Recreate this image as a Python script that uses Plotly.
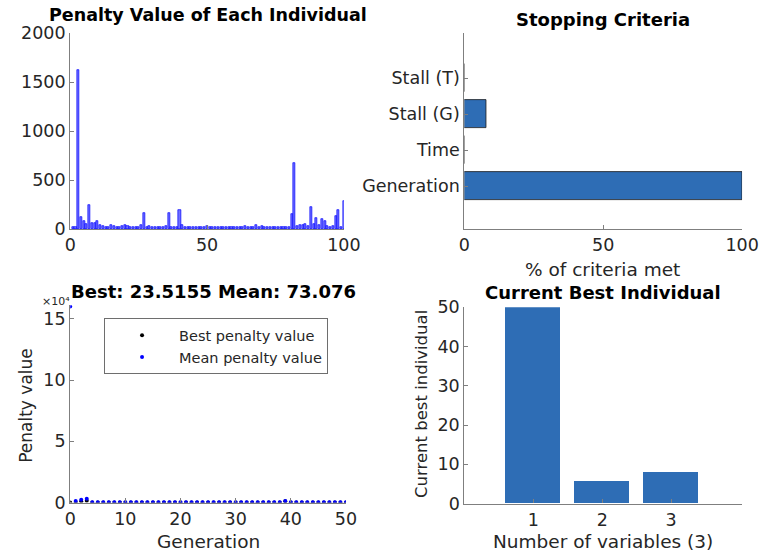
import plotly.graph_objects as go

# ---- data -------------------------------------------------------------
# penalty value of each of the 100 individuals in the final population
individual_idx = list(range(1, 101))
penalty_values = [
    20, 20, 1620, 120, 80, 50, 250, 60, 60, 80,
    40, 30, 25, 20, 45, 30, 20, 25, 30, 45,
    30, 20, 20, 20, 20, 40, 165, 25, 30, 25,
    25, 20, 20, 20, 30, 170, 20, 20, 20, 200,
    40, 25, 20, 20, 20, 20, 25, 20, 25, 30,
    20, 20, 20, 20, 20, 20, 20, 20, 20, 20,
    20, 20, 25, 30, 25, 25, 20, 40, 20, 30,
    20, 25, 20, 20, 20, 20, 20, 20, 20, 20,
    150, 670, 30, 40, 45, 50, 30, 230, 50, 115,
    40, 100, 80, 30, 20, 30, 135, 200, 20, 290,
]

# stopping criteria (% met)
criteria_labels = ["Generation", "Time", "Stall (G)", "Stall (T)"]
criteria_pos = [1, 2, 3, 4]
criteria_pct = [100, 0, 8, 0]

# penalty history per generation (axis units of 1e4)
generations = list(range(0, 51))
best_penalty = [0.0, 0.0, 0.1, 0.15] + [0.0] * 35 + [0.1] + [0.0] * 11
mean_penalty = [16.0, 0.12, 0.22, 0.3] + [0.02] * 35 + [0.12] + [0.02] * 11
exponent_label = "×10⁴"
best_text = "Best: 23.5155 Mean: 73.076"

# current best individual
var_idx = [1, 2, 3]
best_individual = [50, 5.6, 8.0]

# ---- styling ----------------------------------------------------------
W, H = 780, 572
# page-pixel -> figure-pixel mapping (offset, scale)
OX, SX = 3.5, 0.975
OY, SY = 9.0, 0.964
FONT = "DejaVu Sans, Arial, sans-serif"
TXT = "#262626"
AX = "#7f7f7f"
BAR = "#2e6db5"


def px_x(x):
    """page pixel column -> paper fraction"""
    return ((x - OX) / SX) / W


def px_y(y):
    """page pixel row (from top) -> paper fraction"""
    return 1 - ((y - OY) / SY) / H


fig = go.Figure()

# top-left: penalty per individual
fig.add_trace(go.Bar(
    x=individual_idx, y=penalty_values, width=0.75,
    marker=dict(color="#7070ff", line=dict(color="#0000ff", width=0.7)),
    xaxis="x", yaxis="y", showlegend=False,
))

# top-right: stopping criteria
fig.add_trace(go.Bar(
    x=criteria_pct, y=criteria_pos, orientation="h", width=0.8,
    marker=dict(color=BAR, line=dict(color="#1a1a1a", width=0.8)),
    xaxis="x2", yaxis="y2", showlegend=False,
))

# bottom-left: penalty history
fig.add_trace(go.Scatter(
    x=generations, y=best_penalty, mode="markers", name="Best penalty value",
    marker=dict(color="black", size=4),
    xaxis="x3", yaxis="y3",
))
fig.add_trace(go.Scatter(
    x=generations, y=mean_penalty, mode="markers", name="Mean penalty value",
    marker=dict(color="#0000ff", size=4),
    xaxis="x3", yaxis="y3",
))

# bottom-right: current best individual
fig.add_trace(go.Bar(
    x=var_idx, y=best_individual, width=0.8,
    marker=dict(color=BAR, line=dict(color=BAR, width=0)),
    xaxis="x4", yaxis="y4", showlegend=False,
))

axis_common = dict(
    showline=True, linecolor=AX, linewidth=1.2, showgrid=False, zeroline=False,
    ticks="inside", ticklen=4, tickcolor=AX, mirror=False,
    tickfont=dict(family=FONT, size=17.5, color=TXT),
)

fig.update_layout(
    width=W, height=H, margin=dict(l=0, r=0, t=0, b=0),
    paper_bgcolor="white", plot_bgcolor="white",
    font=dict(family=FONT, color=TXT),
    bargap=0,
    xaxis=dict(domain=[px_x(68), px_x(343)], range=[0, 100], tickvals=[0, 50, 100],
               anchor="y", **axis_common),
    yaxis=dict(domain=[px_y(228), px_y(32)], range=[0, 2000],
               tickvals=[0, 500, 1000, 1500, 2000], anchor="x", **axis_common),
    xaxis2=dict(domain=[px_x(464), px_x(743)], range=[0, 100], tickvals=[0, 50, 100],
                anchor="y2", **axis_common),
    yaxis2=dict(domain=[px_y(228), px_y(32)], range=[-0.2, 5.25],
                tickvals=criteria_pos, ticktext=criteria_labels, anchor="x2",
                **axis_common),
    xaxis3=dict(domain=[px_x(68), px_x(345)], range=[0, 50],
                tickvals=[0, 10, 20, 30, 40, 50], anchor="y3", **axis_common),
    yaxis3=dict(domain=[px_y(501), px_y(304)], range=[0, 16.1],
                tickvals=[0, 5, 10, 15], anchor="x3", **axis_common),
    xaxis4=dict(domain=[px_x(464), px_x(743)], range=[0, 4.03], tickvals=var_idx,
                anchor="y4", **axis_common),
    yaxis4=dict(domain=[px_y(502), px_y(306)], range=[0, 50],
                tickvals=[0, 10, 20, 30, 40, 50], anchor="x4", **axis_common),
    legend=dict(
        x=px_x(102), y=px_y(317), xanchor="left", yanchor="top",
        bordercolor="#6e6e6e", borderwidth=1, bgcolor="white",
        itemwidth=64, font=dict(family=FONT, size=14.5, color=TXT),
        tracegroupgap=0,
    ),
)


def label(text, x, y, size=16, bold=False, angle=0):
    fig.add_annotation(
        text=f"<b>{text}</b>" if bold else text,
        x=px_x(x), y=px_y(y), xref="paper", yref="paper",
        xanchor="center", yanchor="middle", showarrow=False, textangle=angle,
        font=dict(family=FONT, size=size, color="black" if bold else TXT),
    )


# subplot titles
label("Penalty Value of Each Individual", 206, 14, 17.5, bold=True)
label("Stopping Criteria", 603, 18, 18, bold=True)
label(best_text, 212, 290, 18, bold=True)
label("Current Best Individual", 603, 291, 18, bold=True)

# axis labels
label("% of criteria met", 603, 268, 18.5)
label("Generation", 207, 540, 18.5)
label("Penalty value", 24, 404, 17, angle=-90)
label("Number of variables (3)", 603, 540, 18.5)
label("Current best individual", 421, 403, 16.5, angle=-90)

# exponent of the penalty-history axis
fig.add_annotation(
    text=exponent_label, x=px_x(38), y=px_y(300), xref="paper", yref="paper",
    xanchor="left", yanchor="middle", showarrow=False,
    font=dict(family=FONT, size=11, color=TXT),
)

fig.write_html("out.html")
